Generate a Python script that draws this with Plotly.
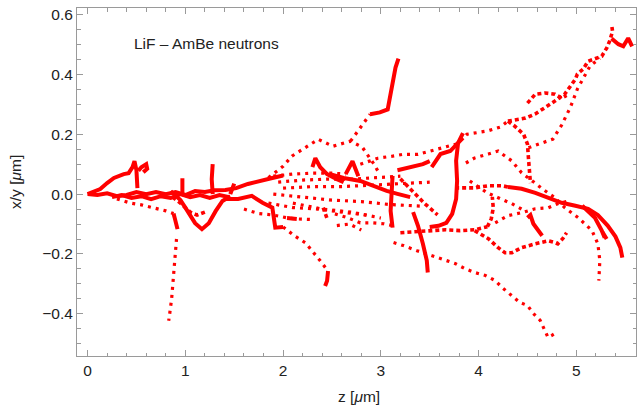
import plotly.graph_objects as go

# ---------------- data: particle tracks (z, x/y) in micrometres ----------------
bump_z = [0.0, 0.13, 0.20, 0.27, 0.37, 0.42, 0.46, 0.48, 0.50, 0.51, 0.51]
bump_xy = [0.0, 0.017, 0.037, 0.054, 0.067, 0.07, 0.09, 0.11, 0.08, 0.04, 0.02]
bump2_z = [0.52, 0.55, 0.60, 0.61, 0.57]
bump2_xy = [0.078, 0.09, 0.10, 0.085, 0.073]

band_z = [0.0, 0.1, 0.2, 0.3, 0.4, 0.5, 0.6, 0.7, 0.8, 0.9, 1.0, 1.1, 1.2, 1.3, 1.41, 1.52, 1.64, 1.76, 1.89, 2.0]
band_xy = [0.0, -0.003, 0.003, -0.007, -0.003, 0.007, 0.0, 0.007, 0.0, 0.007, -0.003, 0.01, 0.007, 0.013, 0.014, 0.02, 0.034, 0.045, 0.054, 0.062]
band2_z = [0.25, 0.35, 0.45, 0.55, 0.65, 0.75, 0.85, 0.95, 1.05, 1.15, 1.25, 1.35, 1.45]
band2_xy = [-0.01, -0.003, -0.013, -0.007, -0.017, -0.007, -0.013, 0.0, -0.01, -0.003, -0.013, -0.003, -0.01]

drop_z = [0.30, 0.44, 0.55, 0.64, 0.72, 0.80, 0.88]
drop_xy = [-0.016, -0.03, -0.036, -0.043, -0.05, -0.056, -0.065]
drop2_z = [0.88, 0.90, 0.92]
drop2_xy = [-0.065, -0.09, -0.117]
vert_z = [0.91, 0.90, 0.895, 0.89, 0.88, 0.86, 0.84, 0.83]
vert_xy = [-0.15, -0.19, -0.23, -0.26, -0.30, -0.35, -0.40, -0.423]

vee_z = [0.85, 0.95, 1.0, 1.1, 1.17, 1.24, 1.31, 1.38, 1.46]
vee_xy = [0.01, -0.02, -0.045, -0.097, -0.117, -0.097, -0.057, -0.023, -0.007]
cross_z = [0.87, 0.95, 1.05, 1.12, 1.20]
cross_xy = [-0.01, -0.03, -0.06, -0.07, -0.06]
spike1_z = [0.97, 0.97]
spike1_xy = [0.0, 0.053]
spike2_z = [1.28, 1.27, 1.28]
spike2_xy = [0.0, 0.05, 0.10]
spike3_z = [1.46, 1.50]
spike3_xy = [0.0, 0.035]

hook1_z = [1.41, 1.54, 1.68, 1.79, 1.89, 1.91, 1.92, 2.0]
hook1_xy = [-0.016, -0.016, -0.006, -0.029, -0.045, -0.08, -0.112, -0.11]
tail1_z = [2.0, 2.12, 2.23, 2.30, 2.38, 2.46]
tail1_xy = [-0.11, -0.14, -0.163, -0.19, -0.223, -0.257]
tail1b_z = [2.46, 2.45, 2.43]
tail1b_xy = [-0.257, -0.29, -0.307]

lowa_z = [1.6, 1.75, 1.9, 2.05, 2.15, 2.3]
lowa_xy = [-0.05, -0.065, -0.07, -0.08, -0.083, -0.085]
lowb_z = [1.85, 2.1, 2.35, 2.6, 2.85]
lowb_xy = [-0.03, -0.045, -0.05, -0.06, -0.07]
short1_z = [2.04, 2.14]
short1_xy = [-0.08, -0.083]
short2_z = [2.41, 2.45]
short2_xy = [-0.045, -0.082]

arch_z = [1.85, 2.0, 2.09, 2.2, 2.36, 2.51, 2.69, 2.81, 2.89, 2.93, 2.97]
arch_xy = [0.055, 0.093, 0.127, 0.15, 0.183, 0.16, 0.177, 0.157, 0.12, 0.10, 0.077]
peak_z = [2.30, 2.33, 2.38, 2.45, 2.55, 2.62]
peak_xy = [0.09, 0.12, 0.09, 0.067, 0.05, 0.04]

fan1_z = [1.9, 2.1, 2.3, 2.5, 2.64]
fan1_xy = [0.06, 0.067, 0.07, 0.07, 0.067]
fan2_z = [1.95, 2.2, 2.45, 2.7, 2.95, 3.2]
fan2_xy = [0.04, 0.047, 0.05, 0.05, 0.055, 0.06]
fan3_z = [2.0, 2.3, 2.6, 2.9, 3.2, 3.5]
fan3_xy = [0.02, 0.025, 0.025, 0.03, 0.035, 0.04]
fan4_z = [1.9, 2.2, 2.5, 2.8, 3.1, 3.4]
fan4_xy = [0.0, -0.01, -0.02, -0.025, -0.035, -0.04]
fan5_z = [2.1, 2.4, 2.7, 3.0]
fan5_xy = [-0.03, -0.05, -0.06, -0.08]

diag_z = [2.48, 2.62, 2.79, 2.92, 3.06, 3.17, 3.3]
diag_xy = [0.067, 0.054, 0.044, 0.027, 0.011, 0.001, -0.01]
aframe_z = [2.64, 2.71, 2.77]
aframe_xy = [0.067, 0.11, 0.06]

climb_z = [2.69, 2.76, 2.82, 2.89]
climb_xy = [0.177, 0.21, 0.237, 0.267]
climb2_z = [2.89, 2.99, 3.07, 3.09, 3.12, 3.15, 3.18]
climb2_xy = [0.267, 0.273, 0.283, 0.317, 0.367, 0.423, 0.453]

ridge_z = [2.79, 2.97, 3.12, 3.23, 3.38, 3.5, 3.68, 3.78, 3.88, 4.09, 4.22, 4.30]
ridge_xy = [0.10, 0.12, 0.127, 0.133, 0.133, 0.144, 0.161, 0.168, 0.20, 0.211, 0.224, 0.244]
dome_z = [4.30, 4.37, 4.46, 4.50, 4.51, 4.53]
dome_xy = [0.244, 0.227, 0.20, 0.167, 0.12, 0.037]

upper_z = [4.30, 4.48, 4.58, 4.66, 4.78, 4.88, 4.96, 4.99, 5.01, 5.07, 5.12, 5.19, 5.26, 5.31, 5.34, 5.37, 5.36]
upper_xy = [0.244, 0.254, 0.268, 0.284, 0.311, 0.334, 0.368, 0.384, 0.401, 0.418, 0.444, 0.454, 0.461, 0.488, 0.511, 0.544, 0.568]
zig_z = [5.36, 5.43, 5.48, 5.53, 5.57]
zig_xy = [0.52, 0.501, 0.494, 0.521, 0.494]
loop_z = [4.50, 4.58, 4.68, 4.78, 4.85, 4.90]
loop_xy = [0.304, 0.334, 0.338, 0.334, 0.321, 0.33]
lower_z = [4.51, 4.63, 4.76, 4.85, 4.94, 5.01, 5.07, 5.14, 5.24]
lower_xy = [0.155, 0.168, 0.184, 0.231, 0.291, 0.351, 0.388, 0.428, 0.454]

slant_z = [3.87, 3.96, 4.1, 4.2, 4.34, 4.44, 4.55, 4.65, 4.78, 4.88, 5.02, 5.16, 5.22, 5.24, 5.23]
slant_xy = [0.104, 0.121, 0.134, 0.144, 0.111, 0.071, 0.044, 0.018, -0.012, -0.045, -0.079, -0.122, -0.166, -0.222, -0.289]

trunk0_z = [3.76, 3.96, 4.1, 4.24, 4.30]
trunk0_xy = [0.021, 0.021, 0.028, 0.028, 0.024]
trunk_z = [4.30, 4.44, 4.58, 4.71, 4.85, 4.99, 5.12, 5.22, 5.32, 5.40, 5.45, 5.47]
trunk_xy = [0.024, 0.018, 0.004, -0.012, -0.029, -0.039, -0.049, -0.07, -0.105, -0.142, -0.179, -0.212]
twin_z = [5.06, 5.19, 5.26, 5.29, 5.27, 5.31]
twin_xy = [-0.039, -0.079, -0.122, -0.146, -0.128, -0.15]

sag_z = [3.96, 4.1, 4.2, 4.27, 4.34, 4.44, 4.58, 4.71, 4.78, 4.81, 4.86, 4.90]
sag_xy = [-0.122, -0.149, -0.179, -0.196, -0.196, -0.179, -0.166, -0.156, -0.162, -0.166, -0.149, -0.129]
flat_z = [3.2, 3.35, 3.5, 3.66, 3.81, 3.96, 4.09]
flat_xy = [-0.129, -0.126, -0.122, -0.119, -0.122, -0.119, -0.109]
crook_z = [4.09, 4.13, 4.15, 4.14]
crook_xy = [-0.109, -0.082, -0.046, -0.009]
rise_z = [4.17, 4.3, 4.44, 4.58, 4.71, 4.81, 4.90]
rise_xy = [-0.096, -0.072, -0.062, -0.049, -0.046, -0.032, -0.025]
fall_z = [3.91, 4.09, 4.2, 4.34, 4.44]
fall_xy = [0.044, 0.004, -0.012, -0.032, -0.05]
nick_z = [4.5, 4.53, 4.56, 4.65]
nick_xy = [-0.079, -0.07, -0.099, -0.139]

long_z = [3.13, 3.23, 3.37, 3.43, 3.59, 3.76, 3.86, 3.96, 4.07, 4.17, 4.24, 4.34, 4.42, 4.5, 4.56, 4.63, 4.68, 4.71, 4.75, 4.78]
long_xy = [-0.162, -0.172, -0.189, -0.196, -0.212, -0.232, -0.249, -0.262, -0.272, -0.289, -0.312, -0.339, -0.362, -0.372, -0.399, -0.422, -0.456, -0.479, -0.472, -0.466]
plunge_z = [3.33, 3.38, 3.43, 3.47, 3.48]
plunge_xy = [-0.06, -0.106, -0.166, -0.222, -0.262]
post_z = [3.12, 3.11, 3.10, 3.12]
post_xy = [0.061, 0.0, -0.056, -0.112]
midrow_z = [2.53, 2.66, 2.79, 2.92, 3.03, 3.13]
midrow_xy = [-0.066, -0.079, -0.096, -0.096, -0.099, -0.106]
midrow2_z = [2.55, 2.68, 2.8]
midrow2_xy = [-0.105, -0.10, -0.12]

jcurve_z = [3.84, 3.79, 3.77, 3.78, 3.77, 3.73, 3.67, 3.59, 3.5]
jcurve_xy = [0.204, 0.171, 0.111, 0.044, -0.016, -0.066, -0.096, -0.106, -0.11]
cut_z = [3.2, 3.32, 3.45, 3.58]
cut_xy = [0.051, 0.011, -0.032, -0.069]
lift_z = [3.52, 3.61, 3.71, 3.78, 3.84]
lift_xy = [0.09, 0.134, 0.144, 0.168, 0.188]
arc2_z = [3.17, 3.3, 3.43, 3.5]
arc2_xy = [0.08, 0.09, 0.10, 0.11]

# (z, x/y, style) ; style: solid = dense track, dash = medium, dot = sparse
tracks = [
    (bump_z, bump_xy, "solid"), (bump2_z, bump2_xy, "solid"),
    (band_z, band_xy, "solid"), (band2_z, band2_xy, "solid"),
    (drop_z, drop_xy, "dot"), (drop2_z, drop2_xy, "solid"), (vert_z, vert_xy, "dot"),
    (vee_z, vee_xy, "solid"), (cross_z, cross_xy, "dash"),
    (spike1_z, spike1_xy, "solid"), (spike2_z, spike2_xy, "solid"), (spike3_z, spike3_xy, "solid"),
    (hook1_z, hook1_xy, "solid"), (tail1_z, tail1_xy, "dot"), (tail1b_z, tail1b_xy, "solid"),
    (lowa_z, lowa_xy, "dot"), (lowb_z, lowb_xy, "dot"), (short1_z, short1_xy, "solid"),
    (short2_z, short2_xy, "dash"),
    (arch_z, arch_xy, "dot"), (peak_z, peak_xy, "solid"),
    (fan1_z, fan1_xy, "dot"), (fan2_z, fan2_xy, "dot"), (fan3_z, fan3_xy, "dot"),
    (fan4_z, fan4_xy, "dot"), (fan5_z, fan5_xy, "dot"),
    (diag_z, diag_xy, "solid"), (aframe_z, aframe_xy, "solid"),
    (climb_z, climb_xy, "dot"), (climb2_z, climb2_xy, "solid"),
    (ridge_z, ridge_xy, "dot"), (dome_z, dome_xy, "dash"),
    (upper_z, upper_xy, "dash"), (zig_z, zig_xy, "solid"), (loop_z, loop_xy, "dash"),
    (lower_z, lower_xy, "dot"),
    (slant_z, slant_xy, "dot"),
    (trunk0_z, trunk0_xy, "dash"), (trunk_z, trunk_xy, "solid"), (twin_z, twin_xy, "solid"),
    (sag_z, sag_xy, "dash"), (flat_z, flat_xy, "dash"), (crook_z, crook_xy, "dash"),
    (rise_z, rise_xy, "dot"), (fall_z, fall_xy, "dot"), (nick_z, nick_xy, "solid"),
    (long_z, long_xy, "dot"), (plunge_z, plunge_xy, "solid"), (post_z, post_xy, "solid"),
    (midrow_z, midrow_xy, "dot"), (midrow2_z, midrow2_xy, "dot"),
    (jcurve_z, jcurve_xy, "solid"), (cut_z, cut_xy, "dash"), (lift_z, lift_xy, "solid"),
    (arc2_z, arc2_xy, "solid"),
]

x_ticks = [0, 1, 2, 3, 4, 5]
y_ticks = [-0.4, -0.2, 0.0, 0.2, 0.4, 0.6]

STYLE = {
    "solid": dict(width=4.0, dash="solid"),
    "dash": dict(width=3.6, dash="4px,3px"),
    "dot": dict(width=3.2, dash="3px,5px"),
}

RED = "#ff0000"
fig = go.Figure()
for zs, ys, st in tracks:
    fig.add_trace(go.Scatter(x=zs, y=ys, mode="lines",
                             line=dict(color=RED, **STYLE[st]),
                             hoverinfo="skip", showlegend=False))

FONT = "Liberation Sans, Arial, sans-serif"
AX = "#9a9a9a"
TXT = "#222222"
axis_common = dict(showgrid=False, zeroline=False, showline=True, linecolor=AX,
                   linewidth=1, mirror="allticks", ticks="inside", ticklen=6,
                   tickwidth=1, tickcolor=AX,
                   tickfont=dict(family=FONT, size=15.5, color=TXT))

fig.update_layout(
    width=644, height=412,
    margin=dict(l=77, r=8, t=6, b=56),
    paper_bgcolor="white", plot_bgcolor="white",
    xaxis=dict(range=[-0.108, 5.61], tickvals=x_ticks, ticktext=[str(v) for v in x_ticks],
               minor=dict(dtick=0.2, tick0=0, ticklen=3.5, tickcolor=AX, ticks="inside"),
               **axis_common),
    yaxis=dict(range=[-0.541, 0.622], tickvals=y_ticks, tickformat=".1f",
               minor=dict(dtick=0.05, tick0=0, ticklen=3.5, tickcolor=AX, ticks="inside"),
               **axis_common),
    annotations=[
        dict(text="LiF \u2013 AmBe neutrons", x=1.22, y=0.504, xref="x", yref="y",
             xanchor="center", yanchor="middle",
             showarrow=False, font=dict(family=FONT, size=15.5, color=TXT)),
        dict(text="x/y [<i>\u03bc</i>m]", x=-0.111, y=0.5, xref="paper", yref="paper",
             xanchor="center", yanchor="middle",
             textangle=-90, showarrow=False, font=dict(family=FONT, size=15.5, color=TXT)),
        dict(text="z [<i>\u03bc</i>m]", x=0.504, y=-0.117, xref="paper", yref="paper",
             xanchor="center", yanchor="middle",
             showarrow=False, font=dict(family=FONT, size=15.5, color=TXT)),
    ],
)

fig.write_html("out.html")
